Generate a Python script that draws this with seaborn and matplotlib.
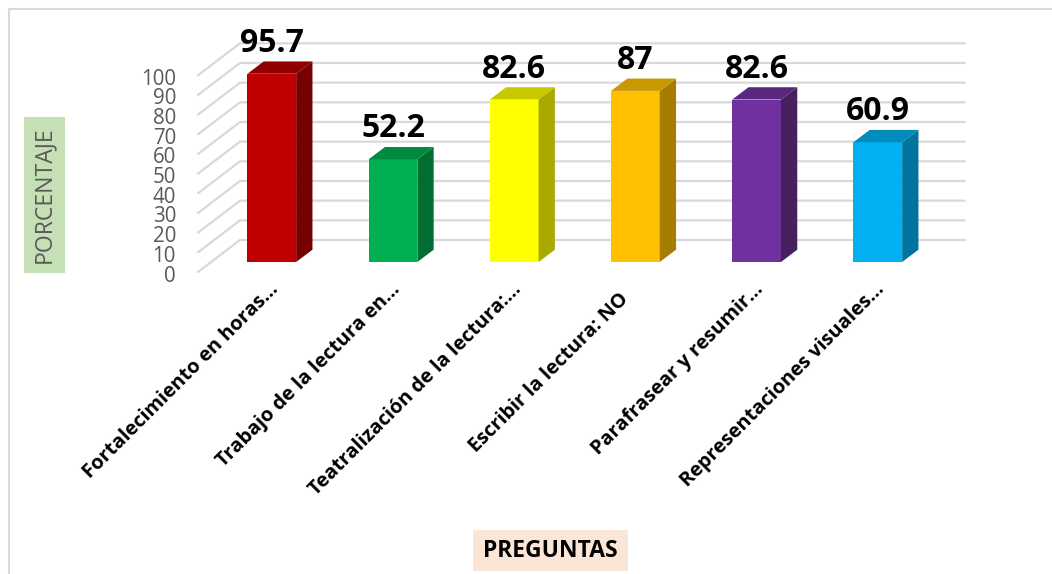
import matplotlib
matplotlib.use("Agg")
import matplotlib.pyplot as plt
from matplotlib.patches import Polygon, Rectangle
from matplotlib.lines import Line2D
from matplotlib.transforms import Affine2D, IdentityTransform
import seaborn as sns

categories = ["Fortalecimiento en horas...", "Trabajo de la lectura en...",
              "Teatralización de la lectura:...", "Escribir la lectura: NO",
              "Parafrasear y resumir...", "Representaciones visuales..."]
values = [95.7, 52.2, 82.6, 87, 82.6, 60.9]
value_labels = ["95.7", "52.2", "82.6", "87", "82.6", "60.9"]
front_colors = ["#C00000", "#00B050", "#FFFF00", "#FFC000", "#7030A0", "#00B0F0"]
side_colors = ["#770000", "#006D32", "#A9A900", "#A67D00", "#47205F", "#00749E"]
top_colors = ["#900000", "#008A3E", "#C8C800", "#C99700", "#592680", "#008BBD"]
y_ticks = list(range(0, 101, 10))

W, H = 1052, 574
sns.set_theme(style="white")
plt.rcParams['font.family'] = ['Open Sans', 'DejaVu Sans']

fig = plt.figure(figsize=(W / 100, H / 100), dpi=100)
L, R, T, B = 198, 965, 43, 272
ax = fig.add_axes([L / W, 1 - B / H, (R - L) / W, (B - T) / H])
ax.patch.set_visible(False)
for s in ax.spines.values():
    s.set_visible(False)

PPU = 1.967
Y0 = 262
X0, DX = 271.8, 121.2

sns.barplot(x=categories, y=values, hue=categories, palette=front_colors,
            legend=False, width=0.402, saturation=1, linewidth=0, ax=ax)
ax.set_xlim((L - X0) / DX, (R - X0) / DX)
ax.set_ylim((Y0 - B) / PPU, (Y0 - T) / PPU)
ax.set_xlabel("")
ax.set_ylabel("")

# back wall and side wall gridlines
for v in y_ticks:
    y = ax.transData.transform((0, v))[1]
    fx0 = ax.transData.transform(((L - X0) / DX, 0))[0]
    fx1 = ax.transData.transform(((R - X0) / DX, 0))[0]
    fig.add_artist(Line2D([fx0, fx0 + 42, fx1], [y - 10, y + 22, y + 22],
                          transform=IdentityTransform(), color="#D9D9D9",
                          lw=1.6, zorder=0.5))
ax.set_zorder(2)

# 3D faces from the bars that seaborn drew
dx3, dy3 = 16.3, 12.3
for i, bar in enumerate(ax.patches):
    x0, x1 = bar.get_x(), bar.get_x() + bar.get_width()
    h = bar.get_height()
    (ax0, ay0), (ax1, ay1) = ax.transData.transform([(x0, 0), (x1, h)])
    ax.add_patch(Polygon([(ax1, ay0), (ax1 + dx3, ay0 + dy3), (ax1 + dx3, ay1 + dy3), (ax1, ay1)],
                         closed=True, transform=IdentityTransform(), fc=side_colors[i], ec="none", zorder=3))
    ax.add_patch(Polygon([(ax0, ay1), (ax0 + dx3, ay1 + dy3), (ax1 + dx3, ay1 + dy3), (ax1, ay1)],
                         closed=True, transform=IdentityTransform(), fc=top_colors[i], ec="none", zorder=3))
    ax.annotate(value_labels[i], (i, h), xytext=(0, 22 * 0.72), textcoords="offset points",
                ha="center", va="baseline", fontsize=23, fontweight="bold", color="black", zorder=5)

# y ticks sit on the front edge of the side wall
ax.set_yticks(y_ticks)
ax.tick_params(axis="y", length=0, pad=22 * 0.72, labelsize=14.8, labelcolor="#595959", left=False)
for lab in ax.get_yticklabels():
    lab.set_transform(lab.get_transform() + Affine2D().translate(0, -11.5))

ax.set_xticks(range(len(categories)))
ax.set_xticklabels(categories, rotation=45, ha="right", rotation_mode="anchor",
                   fontsize=14.4, fontweight="bold", color="black")
ax.tick_params(axis="x", length=0, pad=6, bottom=False)
# the one label without an ellipsis sits further along its slant in the original
for i, lab in enumerate(ax.get_xticklabels()):
    shift = (-17, -9) if i == 3 else (-3, 1)
    lab.set_transform(lab.get_transform() + Affine2D().translate(*shift))

# axis titles with their tinted boxes
fig.add_artist(Rectangle((24 / W, 1 - 273 / H), 41 / W, 156 / H, transform=fig.transFigure,
                         fc="#C5E0B4", ec="none", zorder=0.4))
fig.add_artist(Rectangle((473 / W, 1 - 571 / H), 155 / W, 41 / H, transform=fig.transFigure,
                         fc="#FBE5D6", ec="none", zorder=0.4))
ax.set_ylabel("PORCENTAJE", fontsize=16.6, color="#595959", rotation=90, va="center", ha="center")
ax.yaxis.set_label_coords(44.5 / W, 1 - 195 / H, transform=fig.transFigure)
ax.set_xlabel("PREGUNTAS", fontsize=16.5, fontweight="bold", color="black", va="center", ha="center")
ax.xaxis.set_label_coords(550.5 / W, 1 - 551 / H, transform=fig.transFigure)

# outer frame fragments
fig.add_artist(Line2D([9 / W, 9 / W, 1], [0, 1 - 9 / H, 1 - 9 / H], transform=fig.transFigure,
                      color="#D9D9D9", lw=1.5, zorder=0.3))

fig.savefig("out.png", dpi=100)
